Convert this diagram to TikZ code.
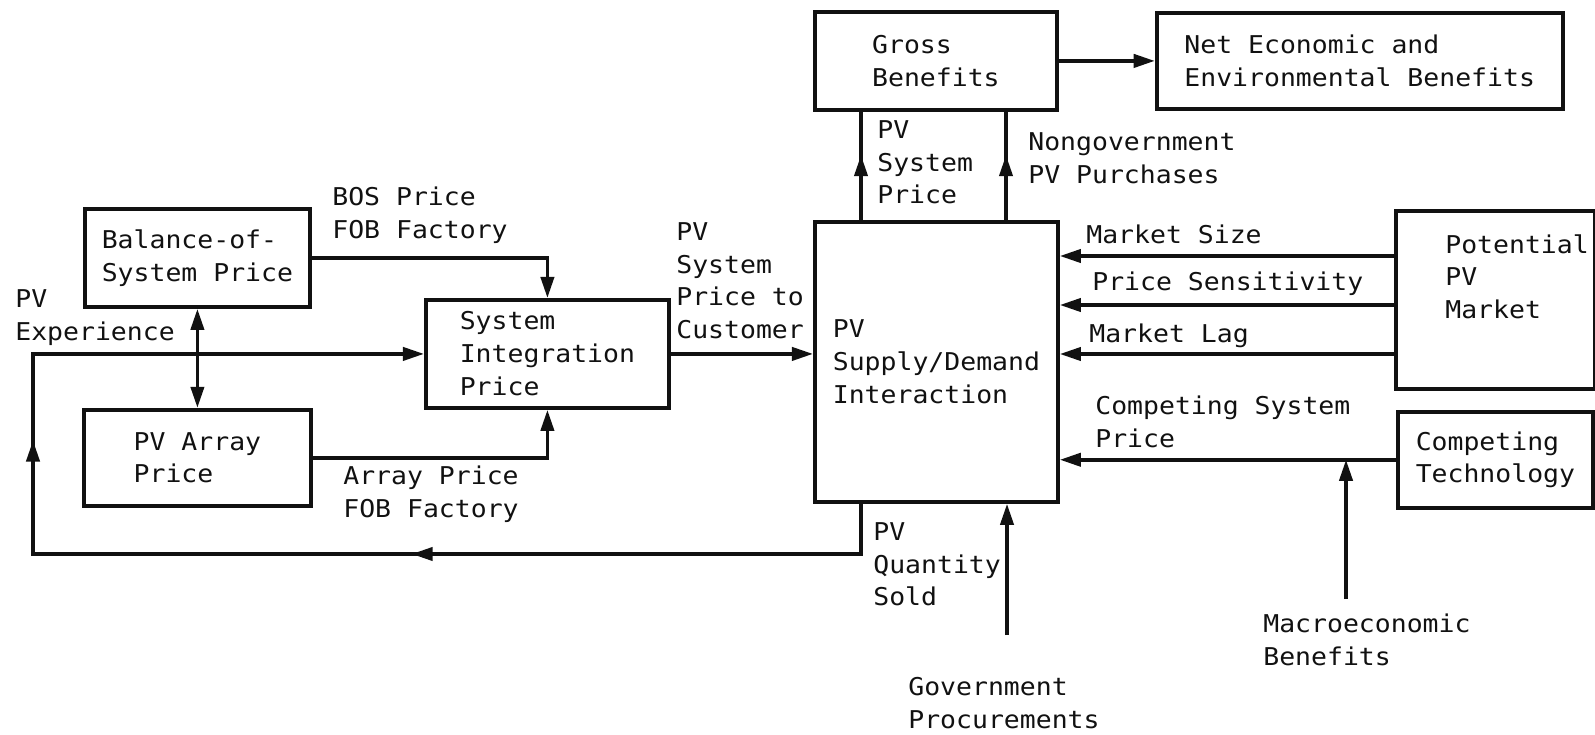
\documentclass[tikz,border=0pt]{standalone}
\usepackage{fontspec}
\setmonofont[FakeStretch=1.08]{DejaVu Sans Mono}
\usepackage{xcolor}
\definecolor{inkDark}{HTML}{111111}
\usepackage{tikz}
\usetikzlibrary{positioning,calc,arrows.meta,decorations.markings}
\tikzset{%
  flowTip/.tip={Triangle[length=12pt,width=7.5pt]},
  modelBox/.style={%
    rectangle,
    draw=inkDark,
    line width=2.2pt,
    inner sep=0pt,
    align=left,
    anchor=north west,
    text=inkDark,
    font=\ttfamily\fontsize{13.95pt}{18.7pt}\selectfont
  },
  flowLabel/.style={%
    inner sep=0pt,
    align=left,
    anchor=north west,
    text=inkDark,
    font=\ttfamily\fontsize{13.95pt}{18.7pt}\selectfont
  },
  arrowLine/.style={%
    -flowTip,
    line width=2pt,
    color=inkDark
  },
  midArrow/.style={%
    postaction={decorate},
    decoration={markings,
      mark=at position #1 with {\arrow{flowTip}}}
  }
}

\begin{document}
\begin{tikzpicture}[x=0.02cm, y=-0.02cm]
  \useasboundingbox (0,0) rectangle (1595,734);

  % price side
  \node[modelBox, minimum width=4.5cm, minimum height=1.96cm] (bos) at (83,207) {Balance-of-\\System Price};
  \node[modelBox, minimum width=4.54cm, minimum height=1.92cm, below=1.98cm of bos] (array) {PV Array\\Price};
  \node[modelBox, minimum width=4.86cm, minimum height=2.16cm] (integ) at (424,298) {System\\Integration\\Price};

  % market side
  \node[modelBox, minimum width=4.86cm, minimum height=5.6cm] (sd) at (813,220) {PV\\Supply/Demand\\Interaction};
  \node[modelBox, minimum width=4.84cm, minimum height=1.96cm] (gross) at (813,10) {Gross\\Benefits};
  \node[modelBox, minimum width=8.12cm, minimum height=1.92cm, right=1.92cm of gross] (net) {Net Economic and\\Environmental Benefits};
  \node[modelBox, minimum width=3.98cm, minimum height=3.56cm] (market) at (1394,209) {};
  \node[flowLabel] (marketText) at (1445,234) {Potential\\PV\\Market};
  \node[modelBox, minimum width=3.9cm, minimum height=1.92cm, below=0.38cm of market] (tech) {Competing\\Technology};

  % free ends
  \coordinate (loopCorner) at (33,554);
  \coordinate (macroTop) at (1346,599);
  \coordinate (govTop) at (1007,635);

  \draw[arrowLine] (bos) -| (integ);
  \draw[arrowLine] (array) -| (integ);
  \draw[arrowLine, flowTip-flowTip] (bos) -- (array);
  \draw[arrowLine] (integ) -- (integ -| sd.west);

  \draw[arrowLine, -, midArrow=0.6] (861,0 |- sd.north) -- (861,0 |- gross.south);
  \draw[arrowLine, -, midArrow=0.6] (1006,0 |- sd.north) -- (1006,0 |- gross.south);
  \draw[arrowLine] (gross) -- (net);

  \draw[arrowLine] (market.west |- 0,256) -- (sd.east |- 0,256);
  \draw[arrowLine] (market.west |- 0,305) -- (sd.east |- 0,305);
  \draw[arrowLine] (market.west |- 0,354) -- (sd.east |- 0,354);
  \draw[arrowLine] (tech) -- (tech -| sd.east);
  \draw[arrowLine] (macroTop) -- (macroTop |- tech);
  \draw[arrowLine] (govTop) -- (govTop |- sd.south);

  % experience feedback loop
  \draw[arrowLine, postaction={decorate},
    decoration={markings,
      mark=at position 0.34 with {\arrow{flowTip}},
      mark=at position 0.675 with {\arrow{flowTip}}}]
    (861,0 |- sd.south) |- (loopCorner) |- (integ);

  % flow labels
  \node[flowLabel] (lblBos) at (332,187) {BOS Price\\FOB Factory};
  \node[flowLabel] (lblArray) at (343,466) {Array Price\\FOB Factory};
  \node[flowLabel] (lblExp) at (15,289) {PV\\Experience};
  \node[flowLabel] (lblCust) at (676,222) {PV\\System\\Price to\\Customer};
  \node[flowLabel] (lblSysPrice) at (877,120) {PV\\System\\Price};
  \node[flowLabel] (lblNongov) at (1028,132) {Nongovernment\\PV Purchases};
  \node[flowLabel] (lblSize) at (1086,225) {Market Size};
  \node[flowLabel] (lblSens) at (1092,272) {Price Sensitivity};
  \node[flowLabel] (lblLag) at (1089,324) {Market Lag};
  \node[flowLabel] (lblComp) at (1095,396) {Competing System\\Price};
  \node[flowLabel] (lblQty) at (873,522) {PV\\Quantity\\Sold};
  \node[flowLabel] (lblMacro) at (1263,614) {Macroeconomic\\Benefits};
  \node[flowLabel] (lblGov) at (908,677) {Government\\Procurements};
\end{tikzpicture}
\end{document}
